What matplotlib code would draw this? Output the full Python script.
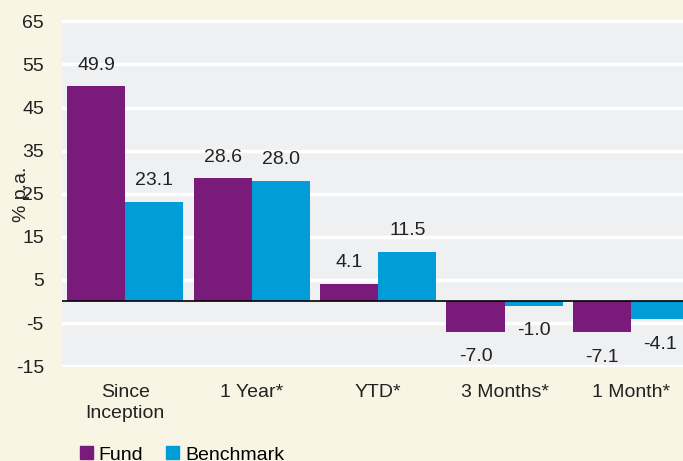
import matplotlib
matplotlib.use("Agg")
from matplotlib import pyplot as plt
from matplotlib.patches import Patch
import numpy as np

categories = ["Since\nInception", "1 Year*", "YTD*", "3 Months*", "1 Month*"]
fund = [49.9, 28.6, 4.1, -7.0, -7.1]
benchmark = [23.1, 28.0, 11.5, -1.0, -4.1]
yticks = [-15, -5, 5, 15, 25, 35, 45, 55, 65]

fund_col = "#7A1A7A"
bench_col = "#009DD8"
bg = "#F8F5E4"
panel = "#EFF0F2"
fs = 14

plt.rcParams["font.family"] = ["Liberation Sans", "DejaVu Sans"]

fig = plt.figure(figsize=(6.83, 4.61), dpi=100, facecolor=bg)
ax = fig.add_axes([62 / 683, 1 - 367 / 461, (683 - 62) / 683, (367 - 20) / 461])
ax.set_facecolor(panel)

x = np.arange(len(categories))
w = 0.46
b1 = ax.bar(x - w / 2, fund, w, color=fund_col, zorder=3)
b2 = ax.bar(x + w / 2, benchmark, w, color=bench_col, zorder=3)

for bars, vals in [(b1, fund), (b2, benchmark)]:
    for r, v in zip(bars, vals):
        cx = r.get_x() + r.get_width() / 2
        if v >= 0:
            ax.annotate(f"{v:.1f}", (cx, v), xytext=(0, 9), textcoords="offset points",
                        ha="center", va="bottom", fontsize=fs, color="#222222")
        else:
            ax.annotate(f"{v:.1f}", (cx, v), xytext=(0, -12), textcoords="offset points",
                        ha="center", va="top", fontsize=fs, color="#222222")

ax.axhline(0, color="black", lw=1.2, zorder=4)
ax.set_ylim(-15.2, 65.3)
ax.set_xlim(-0.5, 4.41)
ax.set_yticks(yticks)
ax.set_yticklabels([str(t) for t in yticks])
ax.yaxis.grid(True, color="white", lw=2.5, zorder=1)
ax.set_axisbelow(True)
ax.set_xticks(x)
ax.set_xticklabels(categories, linespacing=1.35)
ax.tick_params(axis="both", length=0, labelsize=fs, colors="#222222")
ax.tick_params(axis="x", pad=12)
ax.tick_params(axis="y", pad=13)
for s in ax.spines.values():
    s.set_visible(False)

fig.text(21 / 683, 1 - 194 / 461, "% p.a.", rotation=90, ha="center", va="center",
         fontsize=fs, color="#222222")

handles = [Patch(color=fund_col, label="Fund"), Patch(color=bench_col, label="Benchmark")]
fig.legend(handles=handles, loc="center left", bbox_to_anchor=(80 / 683, 1 - 455 / 461),
           ncol=2, frameon=False, fontsize=fs, handlelength=0.65, handleheight=0.65,
           handletextpad=0.3, columnspacing=1.2, borderaxespad=0, borderpad=0)

fig.savefig("out.png", dpi=100, facecolor=bg)
